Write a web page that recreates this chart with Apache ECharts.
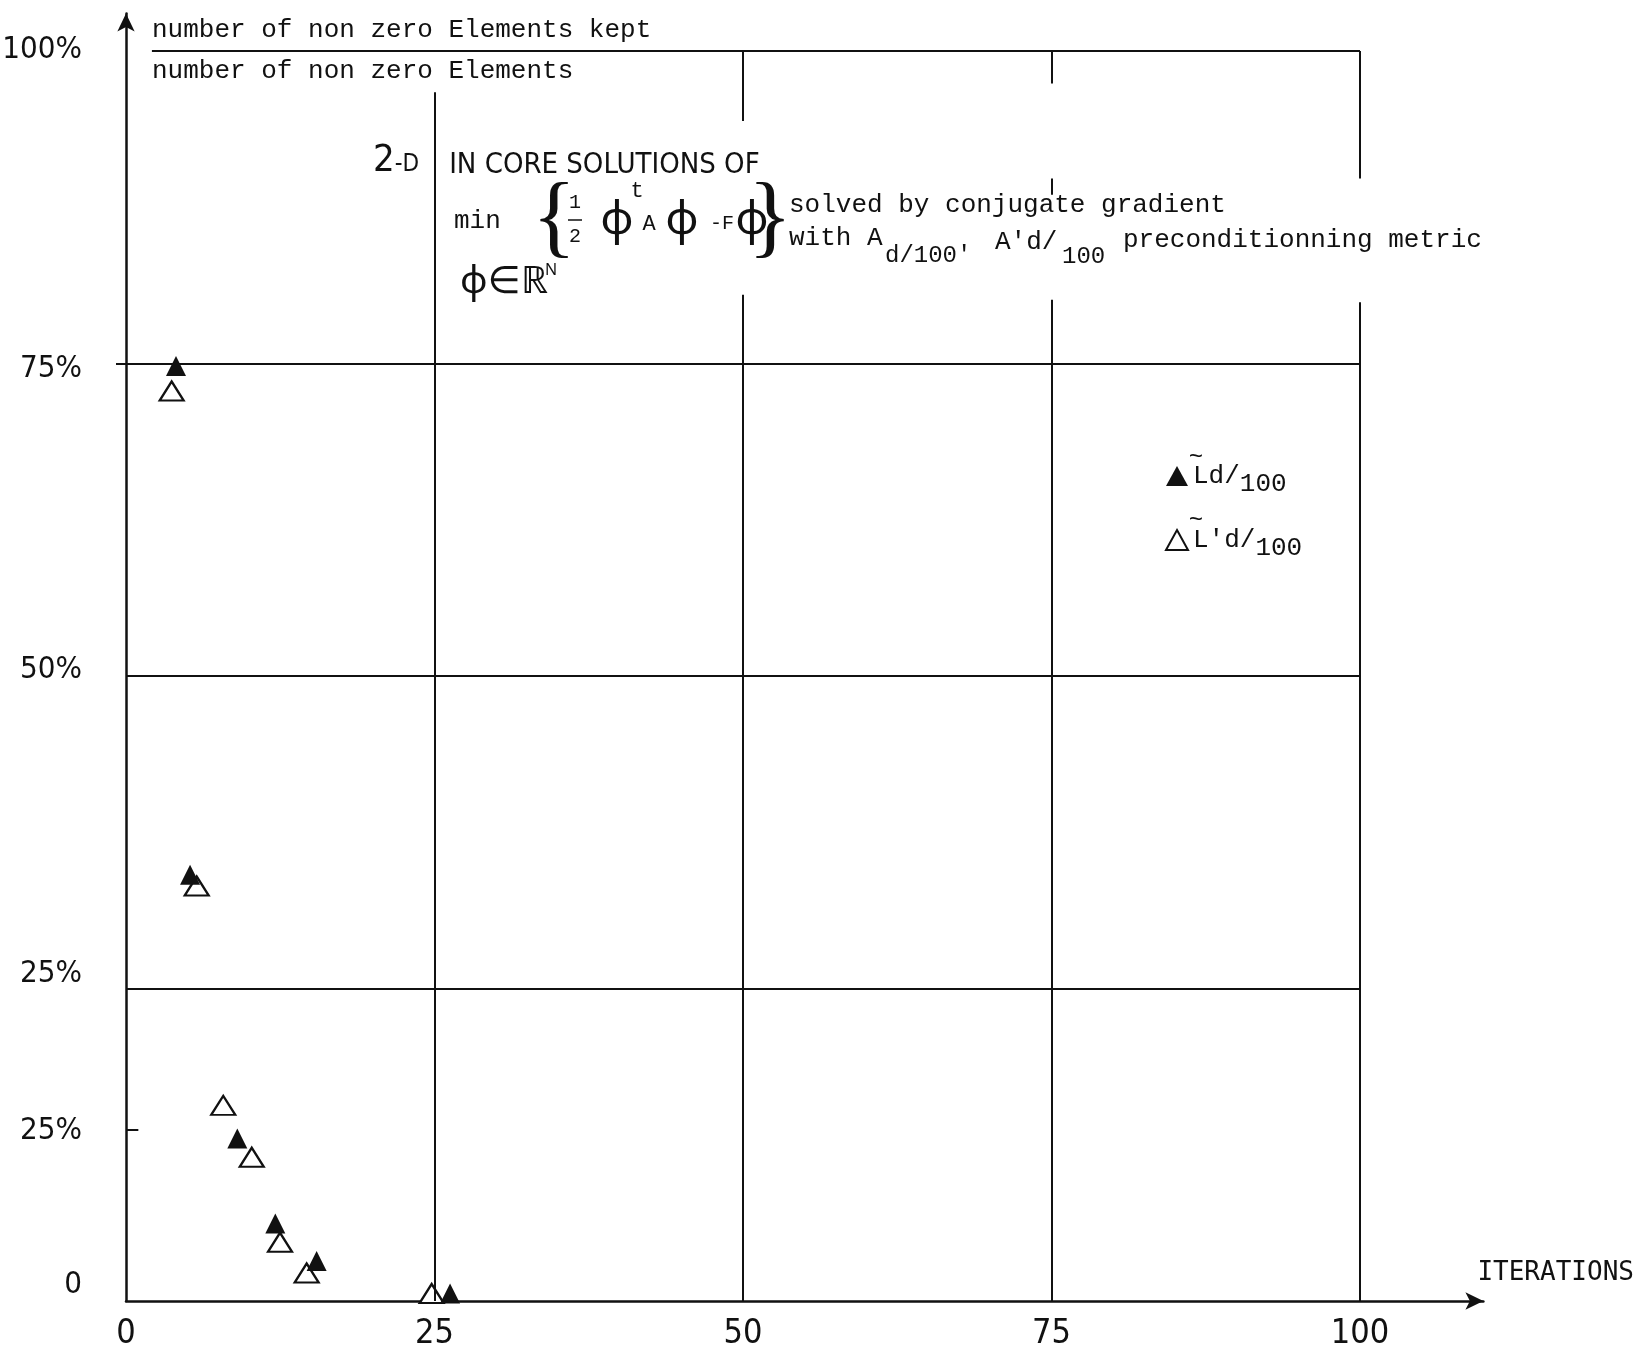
<!DOCTYPE html>
<html>
<head>
<meta charset="utf-8">
<script src="https://cdn.jsdelivr.net/npm/echarts@6/dist/echarts.min.js"></script>
<style>
  html, body { margin: 0; padding: 0; background: #fff; }
  #chart { width: 1649px; height: 1357px; }
</style>
</head>
<body>
<div id="chart"></div>
<script>
// ── Data ─────────────────────────────────────────────────────────────────────

const FILLED = 'L\u0303d/100';
const OPEN = "L\u0303'd/100";

const filledIter = [4.05, 5.19, 9.02, 12.1, 15.45, 26.26];
const filledPct  = [74.8, 34.1, 13.0, 6.2, 3.2, 0.6];

const openIter = [3.7, 5.73, 7.88, 10.19, 12.48, 14.64, 24.77];
const openPct  = [72.8, 33.2, 15.65, 11.5, 4.7, 2.24, 0.6];

const xTicks = [0, 25, 50, 75, 100];
const yTickLabels = ['100%', '75%', '50%', '25%', '25%', '0'];
const yTickValues = [100.1, 74.6, 50.5, 26.2, 13.6, 1.3];

// ── Styling helpers ──────────────────────────────────────────────────────────

const INK = '#111';
const NARROW = '"DejaVu Sans Condensed", "Liberation Sans Narrow", sans-serif';
const MONO = '"Liberation Mono", "DejaVu Sans Mono", monospace';
const GOTHIC = '"DejaVu Sans Mono", monospace';
const MATH = '"Noto Sans", "DejaVu Sans", sans-serif';

const seg = (x1, y1, x2, y2) => [{ coord: [x1, y1] }, { coord: [x2, y2] }];

// hand-drawn grid: horizontal rules, vertical rules broken where the caption sits
const gridSegs = [
  seg(0, 25, 100, 25),
  seg(0, 50, 100, 50),
  seg(0, 75, 100, 75),
  seg(2.1, 100, 100, 100),      // doubles as the fraction bar of the y label
  seg(0, 13.7, 1, 13.7),        // the odd short tick
  seg(25, 0, 25, 96.7),
  seg(50, 0, 50, 80.5), seg(50, 94.4, 50, 100),
  seg(75, 0, 75, 80.1), seg(75, 88.5, 75, 89.8), seg(75, 97.4, 75, 100),
  seg(100, 0, 100, 79.9), seg(100, 89.8, 100, 100),
];

const txt = (x, y, text, font, size, extra = {}) => ({
  type: 'text', x, y, z: 50,
  style: Object.assign({
    text, fill: INK, font: `${size}px ${font}`,
    textAlign: 'left', textVerticalAlign: 'middle',
  }, extra),
});

// ── Chart ────────────────────────────────────────────────────────────────────

const chart = echarts.init(document.getElementById('chart'));

chart.setOption({
  animation: false,
  backgroundColor: '#fff',
  title: {
    text: '{big|2}{sm|-D}{cap|IN CORE SOLUTIONS OF}',
    left: 373, top: 142, padding: 0,
    textStyle: {
      fontWeight: 'normal',
      rich: {
        big: { fontFamily: NARROW, fontSize: 38, fontWeight: 'normal', color: INK },
        sm: { fontFamily: NARROW, fontSize: 24, fontWeight: 'normal', color: INK, padding: [8, 0, 0, 0] },
        cap: { fontFamily: NARROW, fontSize: 29, fontWeight: 'normal', color: INK, padding: [8, 0, 0, 30] },
      },
    },
  },
  grid: { left: 126, top: 13.5, width: 1357.4, height: 1287.5, outerBoundsMode: 'none', containLabel: false },
  xAxis: {
    type: 'value', min: 0, max: 110, interval: 25,
    name: 'ITERATIONS', nameLocation: 'end', nameGap: -6,
    nameTextStyle: {
      fontFamily: GOTHIC, fontSize: 26, color: INK,
      align: 'left', verticalAlign: 'bottom', padding: [0, 0, 15, 0],
    },
    axisLine: { lineStyle: { color: INK, width: 2.5 }, symbol: ['none', 'arrow'], symbolSize: [13, 18] },
    axisTick: { show: false },
    splitLine: { show: false },
    axisLabel: {
      customValues: xTicks,
      margin: 16,
      fontFamily: NARROW, fontSize: 34, color: INK,
      formatter: v => (xTicks.includes(v) ? String(v) : ''),
    },
  },
  yAxis: {
    type: 'value', min: 0, max: 103, interval: 25,
    axisLine: { lineStyle: { color: INK, width: 2.5 }, symbol: ['none', 'arrow'], symbolSize: [13, 18] },
    axisTick: { show: true, customValues: [75], length: 10, lineStyle: { color: INK, width: 2 } },
    splitLine: { show: false },
    axisLabel: {
      customValues: yTickValues,
      margin: 44,
      fontFamily: NARROW, fontSize: 31, color: INK,
      formatter: v => {
        const i = yTickValues.indexOf(v);
        return i >= 0 ? yTickLabels[i] : '';
      },
    },
  },
  legend: {
    orient: 'vertical', left: 1160, top: 458,
    itemWidth: 22, itemHeight: 20, itemGap: 30,
    data: [FILLED, OPEN],
    formatter: name => (name === FILLED ? '{m|Ld/}{s|100}' : "{m|L'd/}{s|100}"),
    textStyle: {
      color: INK,
      rich: {
        m: { fontFamily: MONO, fontSize: 26, color: INK },
        s: { fontFamily: MONO, fontSize: 26, color: INK, padding: [16, 0, 0, 0] },
      },
    },
  },
  series: [
    {
      name: OPEN, type: 'scatter', z: 3,
      data: openIter.map((x, i) => [x, openPct[i]]),
      symbol: 'triangle', symbolSize: [24, 19],
      itemStyle: { color: '#fff', borderColor: INK, borderWidth: 2.2, opacity: 1 },
      clip: false,
      markLine: {
        silent: true, symbol: ['none', 'none'], label: { show: false },
        lineStyle: { color: INK, width: 2, type: 'solid' },
        emphasis: { disabled: true },
        data: gridSegs,
      },
    },
    {
      name: FILLED, type: 'scatter', z: 4,
      data: filledIter.map((x, i) => [x, filledPct[i]]),
      symbol: 'triangle', symbolSize: [20, 20],
      itemStyle: { color: INK, opacity: 1 },
      clip: false,
    },
  ],
  graphic: [
    txt(152, 30, 'number of non zero Elements kept', MONO, 26),
    txt(152, 71, 'number of non zero Elements', MONO, 26),

    // min { 1/2 ϕᵗAϕ − Fϕ }  over ϕ ∈ ℝᴺ
    txt(454, 221, 'min', MONO, 26),
    txt(554, 222, '{', '"Liberation Serif", serif', 92, { textAlign: 'center' }),
    txt(575, 203, '1', MONO, 20, { textAlign: 'center' }),
    { type: 'line', z: 50, shape: { x1: 568, y1: 220, x2: 582, y2: 220 }, style: { stroke: INK, lineWidth: 1.5 } },
    txt(575, 237, '2', MONO, 20, { textAlign: 'center' }),
    txt(617, 221, '\u03d5', MATH, 46, { textAlign: 'center' }),
    txt(637, 191, 't', MONO, 22, { textAlign: 'center' }),
    txt(649, 224, 'A', MONO, 22, { textAlign: 'center' }),
    txt(682, 221, '\u03d5', MATH, 46, { textAlign: 'center' }),
    txt(722, 224, '-F', MONO, 20, { textAlign: 'center' }),
    txt(752, 221, '\u03d5', MATH, 46, { textAlign: 'center' }),
    txt(770, 222, '}', '"Liberation Serif", serif', 92, { textAlign: 'center' }),
    txt(460, 282, '\u03d5\u2208\u211d', MATH, 38),
    txt(545, 270, 'N', MATH, 16),

    txt(789, 205, 'solved by conjugate gradient', MONO, 26),
    txt(789, 238, 'with A', MONO, 26),
    txt(885, 256, "d/100'", MONO, 24),
    txt(995, 242, "A'd/", MONO, 26),
    txt(1062, 257, '100', MONO, 24),
    txt(1123, 240, 'preconditionning metric', MONO, 26),

    // tildes over the legend's L
    txt(1196, 458, '~', MONO, 24, { textAlign: 'center' }),
    txt(1196, 521, '~', MONO, 24, { textAlign: 'center' }),
  ],
});
</script>
</body>
</html>
